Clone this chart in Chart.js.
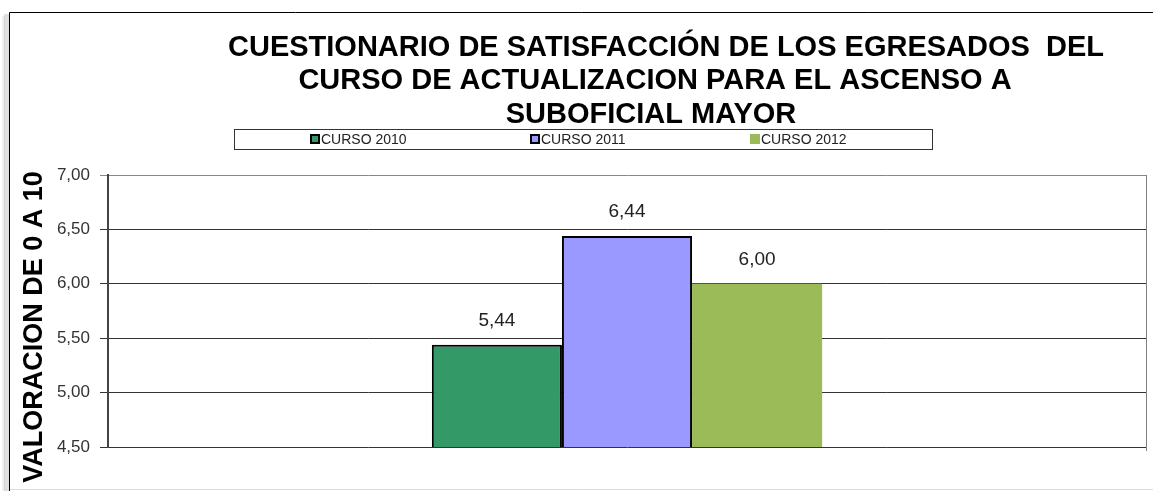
<!DOCTYPE html>
<html>
<head>
<meta charset="utf-8">
<script src="https://cdn.jsdelivr.net/npm/chart.js@4"></script>
<style>
  html,body{margin:0;padding:0;background:#fff;}
  #wrap{width:1153px;height:491px;position:relative;}
</style>
</head>
<body>
<div id="wrap"><canvas id="c" width="1153" height="491"></canvas></div>
<script>
const titleLines = ["CUESTIONARIO DE SATISFACCIÓN DE LOS EGRESADOS  DEL", "CURSO DE ACTUALIZACION PARA EL ASCENSO A", "SUBOFICIAL MAYOR"];
const yAxisTitle = "VALORACION DE 0 A 10";
const categories = [""];
const seriesNames = ["CURSO 2010", "CURSO 2011", "CURSO 2012"];
const curso2010 = [5.44];
const curso2011 = [6.44];
const curso2012 = [6.00];
const yMin = 4.5, yMax = 7.0, yStep = 0.5;

const fmt = v => Number(v).toFixed(2).replace('.', ',');
const FONT = '"Liberation Sans", Arial, sans-serif';

const decor = {
  id: 'decor',
  beforeDraw(chart) {
    const ctx = chart.ctx;
    ctx.save();
    ctx.fillStyle = '#fff';
    ctx.fillRect(0, 0, chart.width, chart.height);
    // outer frame shadow
    ctx.fillStyle = 'rgba(0,0,0,0.12)';
    ctx.fillRect(4, 14, 5, chart.height);
    ctx.fillStyle = 'rgba(0,0,0,0.06)';
    ctx.fillRect(2, 16, 3, chart.height);
    // outer frame
    ctx.strokeStyle = '#000';
    ctx.lineWidth = 1;
    ctx.beginPath();
    ctx.moveTo(9.5, chart.height);
    ctx.lineTo(9.5, 12.5);
    ctx.lineTo(chart.width, 12.5);
    ctx.stroke();
    // faint bottom line
    ctx.strokeStyle = '#ddd';
    ctx.beginPath();
    ctx.moveTo(10, 489.5);
    ctx.lineTo(chart.width, 489.5);
    ctx.stroke();
    ctx.restore();
  },
  afterDraw(chart) {
    const ctx = chart.ctx;
    const area = chart.chartArea;
    ctx.save();
    // plot right border
    ctx.strokeStyle = '#808080';
    ctx.lineWidth = 1;
    ctx.beginPath();
    ctx.moveTo(area.right + 0.5, area.top);
    ctx.lineTo(area.right + 0.5, area.bottom + 4);
    ctx.stroke();

    // title
    ctx.fillStyle = '#000';
    ctx.font = 'bold 29px ' + FONT;
    ctx.textAlign = 'center';
    ctx.textBaseline = 'middle';
    const tcx = [666, 655, 651];
    const tcy = [48, 81, 115];
    titleLines.forEach((t, i) => ctx.fillText(t, tcx[i], tcy[i]));

    // y axis title
    ctx.save();
    ctx.translate(35, 327);
    ctx.rotate(-Math.PI / 2);
    ctx.font = 'bold 27px ' + FONT;
    ctx.fillText(yAxisTitle, 0, 0);
    ctx.restore();

    // legend
    ctx.strokeStyle = '#333';
    ctx.lineWidth = 1;
    ctx.strokeRect(234.5, 129.5, 698, 20);
    const lx = [310, 530, 750];
    ctx.font = '14px ' + FONT;
    ctx.textAlign = 'left';
    ctx.textBaseline = 'middle';
    chart.data.datasets.forEach((ds, i) => {
      ctx.fillStyle = ds.backgroundColor;
      ctx.fillRect(lx[i], 134, 10, 10);
      if (ds.borderWidth > 0) {
        ctx.strokeStyle = '#000';
        ctx.lineWidth = 2;
        ctx.strokeRect(lx[i] + 1, 135, 8, 8);
      }
      ctx.fillStyle = '#222';
      ctx.fillText(ds.label, lx[i] + 11, 140);
    });

    // data labels
    ctx.font = '19px ' + FONT;
    ctx.textAlign = 'center';
    ctx.fillStyle = '#222';
    chart.data.datasets.forEach((ds, i) => {
      const meta = chart.getDatasetMeta(i);
      meta.data.forEach((bar, j) => {
        ctx.fillText(fmt(ds.data[j]), bar.x, bar.y - 24);
      });
    });
    ctx.restore();
  }
};

new Chart(document.getElementById('c'), {
  type: 'bar',
  data: {
    labels: categories,
    datasets: [
      { label: seriesNames[0], data: curso2010, backgroundColor: '#339966', borderColor: '#000', borderWidth: 2 },
      { label: seriesNames[1], data: curso2011, backgroundColor: '#9999FF', borderColor: '#000', borderWidth: 2 },
      { label: seriesNames[2], data: curso2012, backgroundColor: '#9BBB59', borderColor: '#9BBB59', borderWidth: 0 }
    ]
  },
  options: {
    responsive: false,
    animation: false,
    events: [],
    layout: { padding: { left: 0, top: 175, right: 7, bottom: 44 } },
    datasets: { bar: { categoryPercentage: 0.376, barPercentage: 1.0 } },
    plugins: { legend: { display: false }, title: { display: false }, tooltip: { enabled: false } },
    scales: {
      x: {
        display: false,
        afterFit(s) { s.height = 0; }
      },
      y: {
        min: yMin, max: yMax,
        afterFit(s) { s.width = 108; },
        ticks: {
          stepSize: yStep,
          padding: 10,
          color: '#333',
          font: { family: FONT, size: 17 },
          callback: v => fmt(v)
        },
        grid: {
          color: ctx => (ctx.tick && ctx.tick.value === yMax) ? '#888' : '#333',
          lineWidth: 1, tickLength: 8, drawTicks: true
        },
        border: { display: true, color: '#444', width: 2 }
      }
    }
  },
  plugins: [decor]
});
</script>
</body>
</html>
